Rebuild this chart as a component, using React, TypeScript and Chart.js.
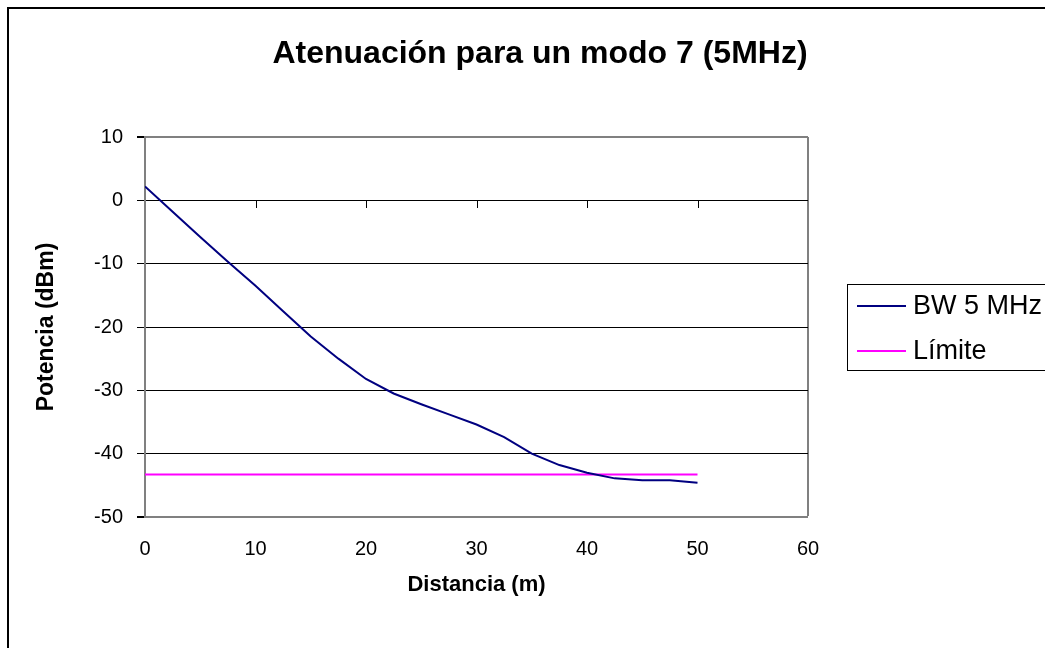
import React, { useEffect, useRef } from "react";
import { Chart, registerables } from "chart.js";

Chart.register(...registerables);

const TITLE = "Atenuación para un modo 7 (5MHz)";
const X_TITLE = "Distancia (m)";
const Y_TITLE = "Potencia (dBm)";

const distances = [0, 2.5, 5, 7.5, 10, 12.5, 15, 17.5, 20, 22.5, 25, 27.5, 30, 32.5, 35, 37.5, 40, 42.5, 45, 47.5, 50];
const bwPower = [2.2, -1.8, -5.8, -9.7, -13.5, -17.5, -21.5, -25.0, -28.2, -30.5, -32.2, -33.8, -35.4, -37.4, -40.0, -41.8, -43.0, -43.9, -44.2, -44.2, -44.6];
const limitPower = [-43.3, -43.3, -43.3, -43.3, -43.3, -43.3, -43.3, -43.3, -43.3, -43.3, -43.3, -43.3, -43.3, -43.3, -43.3, -43.3, -43.3, -43.3, -43.3, -43.3, -43.3];

const seriesLabels = ["BW 5 MHz", "Límite"];
const seriesColors = ["#000080", "#FF00FF"];

const xMin = 0, xMax = 60, xStep = 10;
const yMin = -50, yMax = 10, yStep = 10;

const FONT = '"Liberation Sans", Arial, sans-serif';
const W = 1045, H = 648;

const decor = {
  id: "decor",
  beforeDraw(chart: any) {
    const ctx = chart.ctx;
    ctx.save();
    ctx.fillStyle = "#ffffff";
    ctx.fillRect(0, 0, W, H);
    ctx.fillStyle = "#000000";
    ctx.fillRect(7, 7, 2, H);
    ctx.fillRect(7, 7, W, 2);
    ctx.restore();
  },
  beforeDatasetsDraw(chart: any) {
    const { ctx, scales } = chart;
    const x = scales.x, y = scales.y;
    const y0 = Math.round(y.getPixelForValue(0));
    ctx.save();
    ctx.strokeStyle = "#000000";
    ctx.lineWidth = 1;
    ctx.beginPath();
    x.ticks.forEach((t: any) => {
      if (t.value === xMin || t.value === xMax) return;
      const px = Math.round(x.getPixelForValue(t.value)) + 0.5;
      ctx.moveTo(px, y0);
      ctx.lineTo(px, y0 + 8);
    });
    ctx.stroke();
    ctx.restore();
  },
  afterDraw(chart: any) {
    const { ctx, chartArea } = chart;
    ctx.save();
    ctx.fillStyle = "#000000";
    ctx.textAlign = "center";
    ctx.textBaseline = "middle";
    ctx.font = `bold 32px ${FONT}`;
    ctx.fillText(TITLE, 540, 54);
    ctx.font = `bold 22px ${FONT}`;
    ctx.fillText(X_TITLE, (chartArea.left + chartArea.right) / 2, 585);
    ctx.save();
    ctx.font = `bold 23px ${FONT}`;
    ctx.translate(47, (chartArea.top + chartArea.bottom) / 2);
    ctx.rotate(-Math.PI / 2);
    ctx.fillText(Y_TITLE, 0, 0);
    ctx.restore();

    // legend
    ctx.strokeStyle = "#000000";
    ctx.lineWidth = 1;
    ctx.strokeRect(847.5, 284.5, 300, 86);
    ctx.textAlign = "left";
    ctx.font = `27px ${FONT}`;
    const rows = [306, 351];
    seriesLabels.forEach((lab, i) => {
      ctx.strokeStyle = seriesColors[i];
      ctx.lineWidth = 2;
      ctx.beginPath();
      ctx.moveTo(857, rows[i]);
      ctx.lineTo(906, rows[i]);
      ctx.stroke();
      ctx.fillStyle = "#000000";
      ctx.fillText(lab, 913, rows[i] + 1);
    });
    ctx.restore();
  },
};

export default function App() {
  const ref = useRef<HTMLCanvasElement>(null);
  useEffect(() => {
    const canvas = ref.current!;
    const chart = new Chart(canvas, {
      type: "line",
      data: {
        datasets: [
          {
            label: seriesLabels[0],
            data: distances.map((d, i) => ({ x: d, y: bwPower[i] })),
            borderColor: seriesColors[0],
            backgroundColor: seriesColors[0],
            borderWidth: 2,
            pointRadius: 0,
            tension: 0,
          },
          {
            label: seriesLabels[1],
            data: distances.map((d, i) => ({ x: d, y: limitPower[i] })),
            borderColor: seriesColors[1],
            backgroundColor: seriesColors[1],
            borderWidth: 2,
            pointRadius: 0,
            tension: 0,
          },
        ],
      },
      options: {
        responsive: false,
        animation: false,
        devicePixelRatio: 1,
        layout: { padding: { left: 20, right: 237, top: 137, bottom: 0 } },
        plugins: { legend: { display: false }, title: { display: false }, tooltip: { enabled: false } },
        scales: {
          x: {
            type: "linear",
            min: xMin,
            max: xMax,
            ticks: { stepSize: xStep, color: "#000", font: { family: FONT, size: 20 }, padding: 20, maxRotation: 0 },
            grid: {
              drawTicks: false,
              color: (c: any) => (c.tick && c.tick.value === xMax ? "#808080" : "rgba(0,0,0,0)"),
              lineWidth: (c: any) => (c.tick && c.tick.value === xMax ? 2 : 0),
            },
            border: { display: true, color: "#808080", width: 2 },
            afterFit: (s: any) => { s.height = 131; },
          },
          y: {
            type: "linear",
            min: yMin,
            max: yMax,
            ticks: { stepSize: yStep, color: "#000", font: { family: FONT, size: 20 }, padding: 14 },
            grid: {
              drawTicks: true,
              tickLength: 8,
              tickColor: "#000",
              color: (c: any) => (c.tick && (c.tick.value === yMax || c.tick.value === yMin) ? "#808080" : "#000000"),
              lineWidth: (c: any) => (c.tick && (c.tick.value === yMax || c.tick.value === yMin) ? 2 : 1),
            },
            border: { display: true, color: "#808080", width: 2 },
            afterFit: (s: any) => { s.width = 125; },
          },
        },
      },
      plugins: [decor],
    });
    return () => chart.destroy();
  }, []);
  return (
    <canvas
      ref={ref}
      width={W}
      height={H}
      style={{ position: "fixed", left: 0, top: 0, width: W, height: H, display: "block" }}
    />
  );
}
